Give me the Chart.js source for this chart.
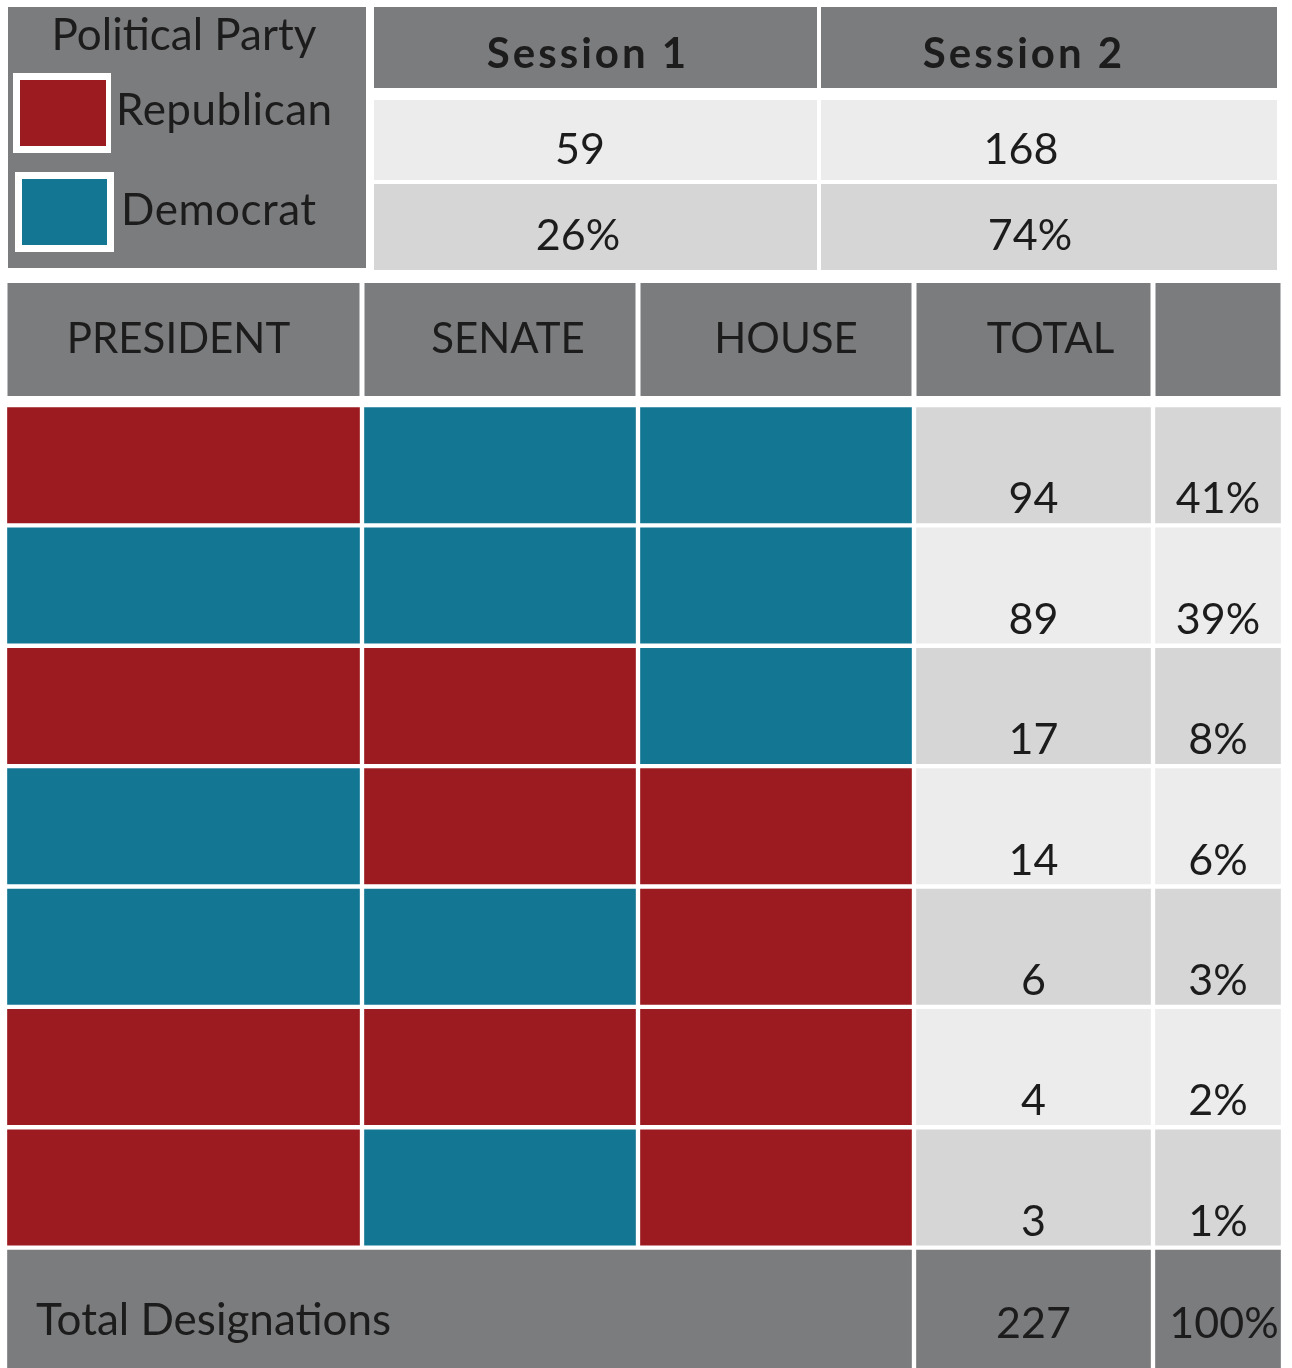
<!DOCTYPE html>
<html>
<head>
<meta charset="utf-8">
<script src="https://cdn.jsdelivr.net/npm/chart.js@4"></script>
<style>
  body { margin: 0; background: #fff; }
  #wrap { width: 1292px; height: 1368px; position: relative; }
</style>
</head>
<body>
<div id="wrap"><canvas id="grid"></canvas></div>
<script>
// party of each office for every combination row
var president = ['R', 'D', 'R', 'D', 'D', 'R', 'R'];
var senate    = ['D', 'D', 'R', 'R', 'D', 'R', 'D'];
var house     = ['D', 'D', 'D', 'R', 'R', 'R', 'R'];
var totals    = [94, 89, 17, 14, 6, 4, 3];
var percents  = ['41%', '39%', '8%', '6%', '3%', '2%', '1%'];
var grandTotal = 227;
var grandPercent = '100%';

var sessions      = ['Session 1', 'Session 2'];
var sessionCounts = [59, 168];
var sessionPcts   = ['26%', '74%'];

var columnTitles = ['PRESIDENT', 'SENATE', 'HOUSE', 'TOTAL', ''];
var parties = { R: 'Republican', D: 'Democrat' };

// layout
var colEdges = [5, 362, 638, 914, 1153, 1283];
var titleShift = [-5, 8, 10, 17, 0];
var sessionEdges = [372, 819, 1279];
var sessionText = { title: [588, 1024], count: [580, 1021], pct: [578, 1030] };
var RED = '#9c1b20', TEAL = '#137794', GREY = '#7b7c7e';
var LIGHT = ['#d6d6d6', '#ececec'];
var FONT = 'Lato, "Open Sans", sans-serif';
var INK = '#1c1c1c';

function partyColor(p) { return p === 'R' ? RED : TEAL; }

var labels = president.map(function (p, i) { return p + senate[i] + house[i]; });
labels.push('Total Designations');
var last = labels.length - 1;

function cells(from, to, mergedTotal) {
    return labels.map(function (l, i) {
        if (i === last) return mergedTotal;
        return [colEdges[from], colEdges[to]];
    });
}

function border(ctx) {
    if (ctx.dataIndex === last) return { top: 2.5, left: 2.5, right: 2.5, bottom: 0 };
    return 2.5;
}

var datasets = [
    { label: 'President', data: cells(0, 1, [colEdges[0], colEdges[3]]),
      backgroundColor: president.map(partyColor).concat([GREY]) },
    { label: 'Senate', data: cells(1, 2, null),
      backgroundColor: senate.map(partyColor).concat([GREY]) },
    { label: 'House', data: cells(2, 3, null),
      backgroundColor: house.map(partyColor).concat([GREY]) },
    { label: 'Total', data: cells(3, 4, [colEdges[3], colEdges[4]]),
      backgroundColor: totals.map(function (t, i) { return LIGHT[i % 2]; }).concat([GREY]) },
    { label: 'Percent', data: cells(4, 5, [colEdges[4], colEdges[5]]),
      backgroundColor: percents.map(function (t, i) { return LIGHT[i % 2]; }).concat([GREY]) }
];
datasets.forEach(function (d) {
    d.borderColor = '#ffffff';
    d.borderWidth = border;
    d.borderSkipped = false;
    d.barPercentage = 1;
    d.categoryPercentage = 1;
    d.grouped = false;
});

function text(ctx, s, x, y, size, weight, align, spacing) {
    ctx.font = (weight || 'normal') + ' ' + size + 'px ' + FONT;
    ctx.fillStyle = INK;
    ctx.textAlign = align || 'center';
    ctx.textBaseline = 'alphabetic';
    ctx.letterSpacing = spacing || '0px';
    ctx.fillText(s, x, y);
    ctx.letterSpacing = '0px';
}

var tablePlugin = {
    id: 'tablePlugin',
    beforeDatasetsDraw: function (chart) {
        var ctx = chart.ctx, xs = chart.scales.x;
        var px = function (v) { return xs.getPixelForValue(v); };
        ctx.save();
        // legend block
        ctx.fillStyle = GREY;
        ctx.fillRect(px(8), 7, px(366) - px(8), 261);
        text(ctx, 'Political Party', px(184), 50, 44);
        ctx.fillStyle = '#fff';
        ctx.fillRect(px(13), 73, 98, 80);
        ctx.fillRect(px(15), 172, 99, 80);
        ctx.fillStyle = RED;
        ctx.fillRect(px(20), 80, 86, 66);
        ctx.fillStyle = TEAL;
        ctx.fillRect(px(22), 179, 85, 66);
        text(ctx, parties.R, px(116), 125, 44, 'normal', 'left', '0.5px');
        text(ctx, parties.D, px(121), 225, 44, 'normal', 'left', '0.5px');

        // session cells
        for (var s = 0; s < sessions.length; s++) {
            var a = px(sessionEdges[s]) + 2, b = px(sessionEdges[s + 1]) - 2;
            ctx.fillStyle = GREY;
            ctx.fillRect(a, 7, b - a, 81);
            ctx.fillStyle = LIGHT[1];
            ctx.fillRect(a, 100, b - a, 80);
            ctx.fillStyle = LIGHT[0];
            ctx.fillRect(a, 184, b - a, 86);
            text(ctx, sessions[s], px(sessionText.title[s]), 68, 42, 'bold', 'center', '3px');
            text(ctx, String(sessionCounts[s]), px(sessionText.count[s]), 164, 43);
            text(ctx, sessionPcts[s], px(sessionText.pct[s]), 250, 43);
        }

        // column header row
        for (var c = 0; c < columnTitles.length; c++) {
            var l = px(colEdges[c]) + 2.5, r = px(colEdges[c + 1]) - 2.5;
            ctx.fillStyle = GREY;
            ctx.fillRect(l, 283, r - l, 113);
            if (columnTitles[c]) text(ctx, columnTitles[c], (l + r) / 2 + titleShift[c], 353, 42);
        }
        ctx.restore();
    },
    afterDatasetsDraw: function (chart) {
        var ctx = chart.ctx;
        var tot = chart.getDatasetMeta(3).data, pct = chart.getDatasetMeta(4).data;
        ctx.save();
        for (var i = 0; i < totals.length; i++) {
            var bottom = tot[i].y + tot[i].height / 2;
            text(ctx, String(totals[i]), tot[i].getCenterPoint().x, bottom - 12, 43);
            text(ctx, percents[i], pct[i].getCenterPoint().x, bottom - 12, 43);
        }
        var pres = chart.getDatasetMeta(0).data[last];
        var base = pres.y + 28;
        text(ctx, labels[last], pres.base + 31, base - 1, 44, 'normal', 'left');
        text(ctx, String(grandTotal), tot[last].getCenterPoint().x, base + 2, 43);
        text(ctx, grandPercent, pct[last].getCenterPoint().x + 6, base + 2, 43);
        ctx.restore();
    }
};

new Chart(document.getElementById('grid'), {
    type: 'bar',
    data: { labels: labels, datasets: datasets },
    options: {
        indexAxis: 'y',
        responsive: true,
        maintainAspectRatio: false,
        animation: false,
        layout: { padding: { top: 405, left: 0, right: 0, bottom: 0 } },
        scales: {
            x: { type: 'linear', min: 0, max: 1292, display: false },
            y: { type: 'category', display: false }
        },
        plugins: { legend: { display: false }, tooltip: { enabled: false } }
    },
    plugins: [tablePlugin]
});
</script>
</body>
</html>
